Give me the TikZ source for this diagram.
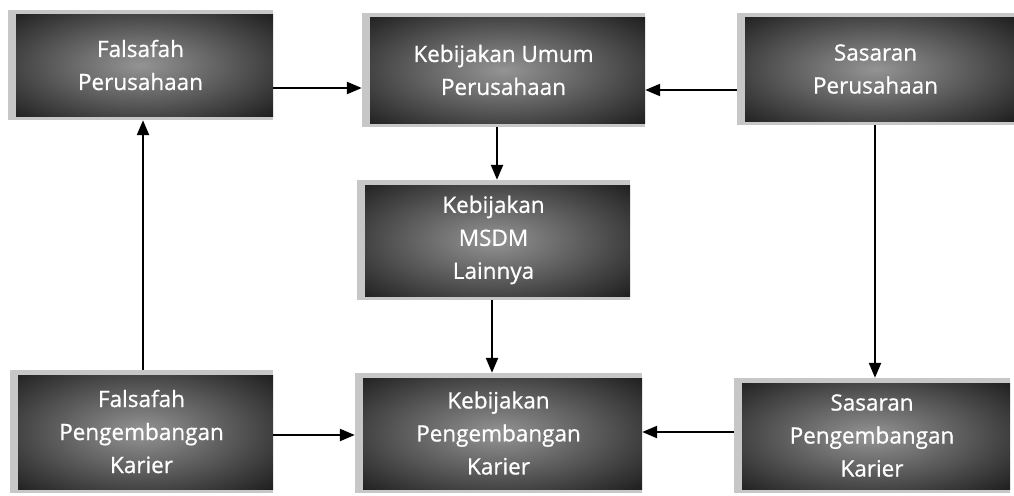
\documentclass[tikz,border=0pt]{standalone}
\usepackage{fontspec}
\setmainfont{Open Sans}
\newfontfamily\boxfont[FakeBold=0.8]{Open Sans}
\usetikzlibrary{arrows.meta}
\pgfdeclareradialshading{boxshade}{\pgfpoint{0bp}{0bp}}{color(0bp)=(black!42); color(18bp)=(black!66); color(38bp)=(black!93); color(48bp)=(black); color(100bp)=(black)}
\tikzset{
  dbox/.style={rectangle, inner sep=0pt, fill=black!22, align=center, text=white,
    font=\boxfont\fontsize{22.5}{33}\selectfont,
    path picture={\shade[shading=boxshade] ([xshift=8pt,yshift=-5pt]path picture bounding box.north west) rectangle ([yshift=4pt]path picture bounding box.south east);}},
  arr/.style={line width=2.3pt, -{Triangle[length=15pt,width=12pt]}}
}
\begin{document}
\begin{tikzpicture}[x=1pt,y=-1pt]
\useasboundingbox (0,0) rectangle (1014,495);
\node[dbox, minimum width=265pt, minimum height=110pt] (b1) at (140.5,65) {Falsafah\\Perusahaan};
\node[dbox, minimum width=283pt, minimum height=114pt] (b2) at (503.5,70) {Kebijakan Umum\\Perusahaan};
\node[dbox, minimum width=277pt, minimum height=112pt] (b3) at (875.5,69) {Sasaran\\Perusahaan};
\node[dbox, minimum width=273pt, minimum height=120pt] (b4) at (493.5,240) {Kebijakan\\MSDM\\Lainnya};
\node[dbox, minimum width=263pt, minimum height=123pt] (b5) at (141.5,431.5) {Falsafah\\Pengembangan\\Karier};
\node[dbox, minimum width=287pt, minimum height=120pt] (b6) at (498.5,433) {Kebijakan\\Pengembangan\\Karier};
\node[dbox, minimum width=276pt, minimum height=115pt] (b7) at (872,435.5) {Sasaran\\Pengembangan\\Karier};
\draw[arr] (b1.east |- 0,88) -- (b2.west |- 0,88);
\draw[arr] (b3.west |- 0,90) -- (b2.east |- 0,90);
\draw[arr] (b2.south -| 497,0) -- (b4.north -| 497,0);
\draw[arr] (b4.south -| 492,0) -- (b6.north -| 492,0);
\draw[arr] (b3.south -| 875,0) -- (b7.north -| 875,0);
\draw[arr] (b5.north -| 143,0) -- (b1.south -| 143,0);
\draw[arr] (b5.east |- 0,435) -- (b6.west |- 0,435);
\draw[arr] (b7.west |- 0,432) -- (b6.east |- 0,432);
\end{tikzpicture}
\end{document}
